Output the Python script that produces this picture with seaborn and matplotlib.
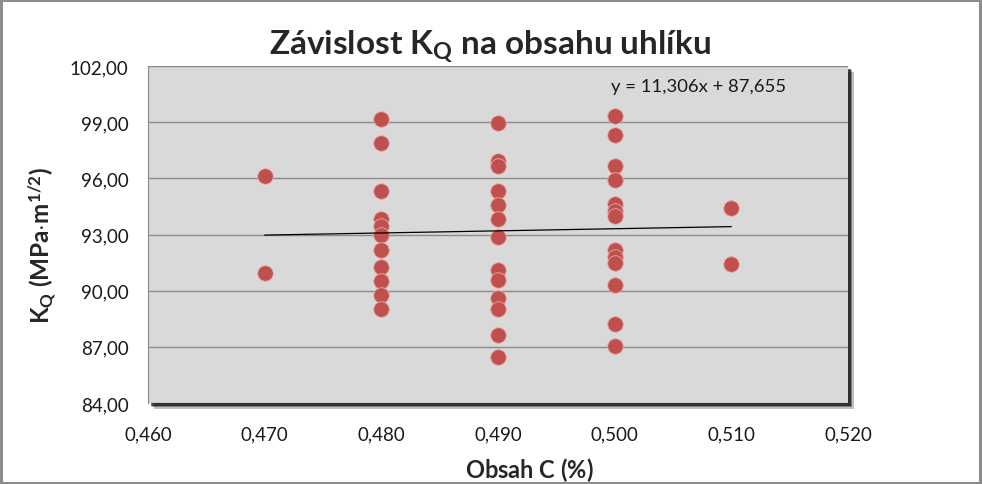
import matplotlib
matplotlib.use("Agg")
import matplotlib.pyplot as plt
import seaborn as sns
import numpy as np
import pandas as pd
from matplotlib.ticker import FuncFormatter, MultipleLocator
from matplotlib.patches import Rectangle

# ---- data ----
x_470 = [96.11, 90.93]
x_480 = [99.18, 97.91, 95.30, 93.85, 93.45, 93.00, 92.17, 91.29, 90.52, 89.77, 89.04]
x_490 = [98.93, 96.95, 96.65, 95.32, 94.55, 93.82, 92.84, 91.10, 90.57, 89.62, 89.00, 87.61, 86.47]
x_500 = [99.32, 98.29, 96.68, 95.90, 94.65, 94.25, 93.98, 92.15, 91.80, 91.48, 90.28, 88.23, 87.03]
x_510 = [94.39, 91.45]
carbon_levels = [0.470, 0.480, 0.490, 0.500, 0.510]
trend_slope = 11.306
trend_intercept = 87.655
title_text = r"Závislost K$_\mathbf{Q}$ na obsahu uhlíku"
eq_text = "y = 11,306x + 87,655"

groups = [x_470, x_480, x_490, x_500, x_510]
df = pd.DataFrame({
    "c": np.concatenate([[c] * len(g) for c, g in zip(carbon_levels, groups)]),
    "kq": np.concatenate(groups),
})

sns.set_style("white")
plt.rcParams["font.family"] = ["Lato", "DejaVu Sans"]
plt.rcParams["mathtext.fontset"] = "custom"
plt.rcParams["mathtext.rm"] = "Lato"
plt.rcParams["mathtext.bf"] = "Lato:bold"
plt.rcParams["mathtext.it"] = "Lato:italic"

fig = plt.figure(figsize=(9.82, 4.85), dpi=100)
L, R, B, T = 148 / 982, 848 / 982, 1 - 404 / 485, 1 - 67 / 485
ax = fig.add_axes([L, B, R - L, T - B])
ax.set_zorder(3)

# plot area shadow
px, py = 1 / 982, 1 / 485
for i, a in enumerate([0.25, 0.35, 0.6]):
    off = 6 - i * 1.7
    fig.patches.append(Rectangle((L + off * px, B - off * py), R - L, T - B,
                                 transform=fig.transFigure, facecolor="black",
                                 alpha=a, edgecolor="none", zorder=0))
# figure border
fig.patches.append(Rectangle((0.001, 0.002), 0.997, 0.995, transform=fig.transFigure,
                             facecolor="none", edgecolor="#8c8c8c", linewidth=2.2, zorder=5))

ax.set_facecolor("#d9d9d9")
ax.set_xlim(0.460, 0.520)
ax.set_ylim(84, 102)
ax.yaxis.set_major_locator(MultipleLocator(3))
ax.xaxis.set_major_locator(MultipleLocator(0.01))
ax.grid(axis="y", color="#8a8a8a", linewidth=1.0)
ax.set_axisbelow(True)
for s in ax.spines.values():
    s.set_visible(False)
ax.spines["left"].set_visible(True)
ax.spines["left"].set_color("#8a8a8a")

sns.scatterplot(data=df, x="c", y="kq", ax=ax, color="#c0504d", s=125,
                edgecolor="#e8a9a7", linewidth=0.6, zorder=3, legend=False)

xl = np.array([min(carbon_levels), max(carbon_levels)])
sns.lineplot(x=xl, y=trend_slope * xl + trend_intercept, ax=ax, color="black",
             linewidth=0.9, zorder=4)

ax.text(0.4997, 100.95, eq_text, fontsize=13.3, ha="left", va="center", color="#1a1a1a")

ax.xaxis.set_major_formatter(FuncFormatter(lambda v, p: f"{v:.3f}".replace(".", ",")))
ax.yaxis.set_major_formatter(FuncFormatter(lambda v, p: f"{v:.2f}".replace(".", ",")))
ax.tick_params(axis="x", length=0, pad=16, labelsize=13.5, colors="#1a1a1a")
ax.tick_params(axis="y", length=0, pad=14, labelsize=13.5, colors="#1a1a1a")

ax.set_xlabel(r"Obsah C $\mathregular{(\%)}$", fontsize=17, fontweight="bold", labelpad=6)
ax.xaxis.set_label_coords(0.545, -0.155)
ax.set_ylabel(r"K$_\mathbf{Q}$ (MPa$\cdot$m$^\mathbf{1/2}$)", fontsize=17.5, fontweight="bold")
ax.yaxis.set_label_coords(-0.128, 0.47)

fig.text(0.499, 0.905, title_text, ha="center", va="center", fontsize=24, fontweight="bold")

fig.savefig("out.png", dpi=100, facecolor="white")
